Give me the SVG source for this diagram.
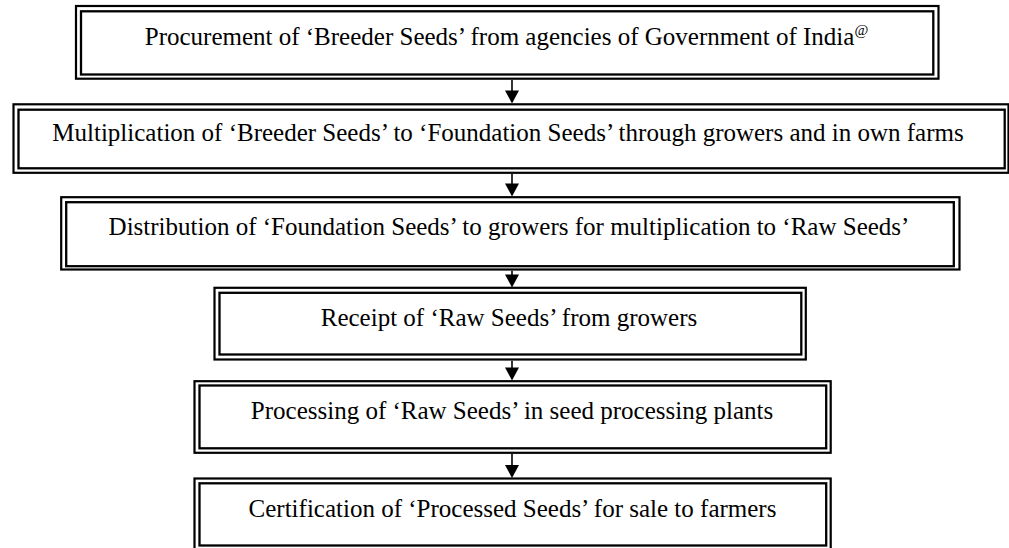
<svg xmlns="http://www.w3.org/2000/svg" width="1009" height="548" viewBox="0 0 1009 548">
<style>
.o{fill:none;stroke:#000;stroke-width:2.2}
.i{fill:none;stroke:#000;stroke-width:2.3}
.t{font-family:'Liberation Serif',serif;font-size:25px;fill:#000;text-anchor:middle}
.c{stroke:#000;stroke-width:1.6;fill:none}
</style>
<defs>
<marker id="ah" markerUnits="userSpaceOnUse" markerWidth="14" markerHeight="14" viewBox="0 0 13 14" refX="11" refY="7" orient="auto">
<path d="M0,0 L13,7 L0,14 z" fill="#000"/>
</marker>
</defs>
<rect width="1009" height="548" fill="#fff"/>
<g id="connectors">
<line class="c" x1="512" y1="80" x2="512" y2="101.5" marker-end="url(#ah)"/>
<line class="c" x1="512" y1="174" x2="512" y2="194.5" marker-end="url(#ah)"/>
<line class="c" x1="512" y1="270.7" x2="512" y2="285.5" marker-end="url(#ah)"/>
<line class="c" x1="512" y1="360.7" x2="512" y2="378.5" marker-end="url(#ah)"/>
<line class="c" x1="512" y1="454" x2="512" y2="476" marker-end="url(#ah)"/>
</g>
<g id="node1">
<rect class="o" x="76" y="6" width="862.5" height="72.7"/>
<rect class="i" x="81" y="11.3" width="852.3" height="63.2"/>
<text class="t" x="506.5" y="45" font-family="Liberation Serif, serif">Procurement of ‘Breeder Seeds’ from agencies of Government of India<tspan font-size="15" dy="-10">@</tspan></text>
</g>
<g id="node2">
<rect class="o" x="13.5" y="104.3" width="995" height="68.5"/>
<rect class="i" x="18.5" y="109.7" width="986.2" height="58.6"/>
<text class="t" x="508" y="141" font-family="Liberation Serif, serif">Multiplication of ‘Breeder Seeds’ to ‘Foundation Seeds’ through growers and in own farms</text>
</g>
<g id="node3">
<rect class="o" x="61.2" y="197.2" width="898.3" height="72.3"/>
<rect class="i" x="66.2" y="202.2" width="887.6" height="64"/>
<text class="t" x="509" y="235" font-family="Liberation Serif, serif">Distribution of ‘Foundation Seeds’ to growers for multiplication to ‘Raw Seeds’</text>
</g>
<g id="node4">
<rect class="o" x="214.5" y="287.8" width="591.3" height="71.7"/>
<rect class="i" x="219.5" y="292.8" width="581.8" height="61.7"/>
<text class="t" x="509" y="325.7" font-family="Liberation Serif, serif">Receipt of ‘Raw Seeds’ from growers</text>
</g>
<g id="node5">
<rect class="o" x="194.5" y="381.2" width="636.2" height="71.6"/>
<rect class="i" x="199.5" y="385.5" width="626.7" height="62.8"/>
<text class="t" x="512" y="419.3" font-family="Liberation Serif, serif">Processing of ‘Raw Seeds’ in seed processing plants</text>
</g>
<g id="node6">
<rect class="o" x="194.5" y="478.5" width="636.2" height="71"/>
<rect class="i" x="199.5" y="483.3" width="626.7" height="62.2"/>
<text class="t" x="512.5" y="516.7" font-family="Liberation Serif, serif">Certification of ‘Processed Seeds’ for sale to farmers</text>
</g>
</svg>
